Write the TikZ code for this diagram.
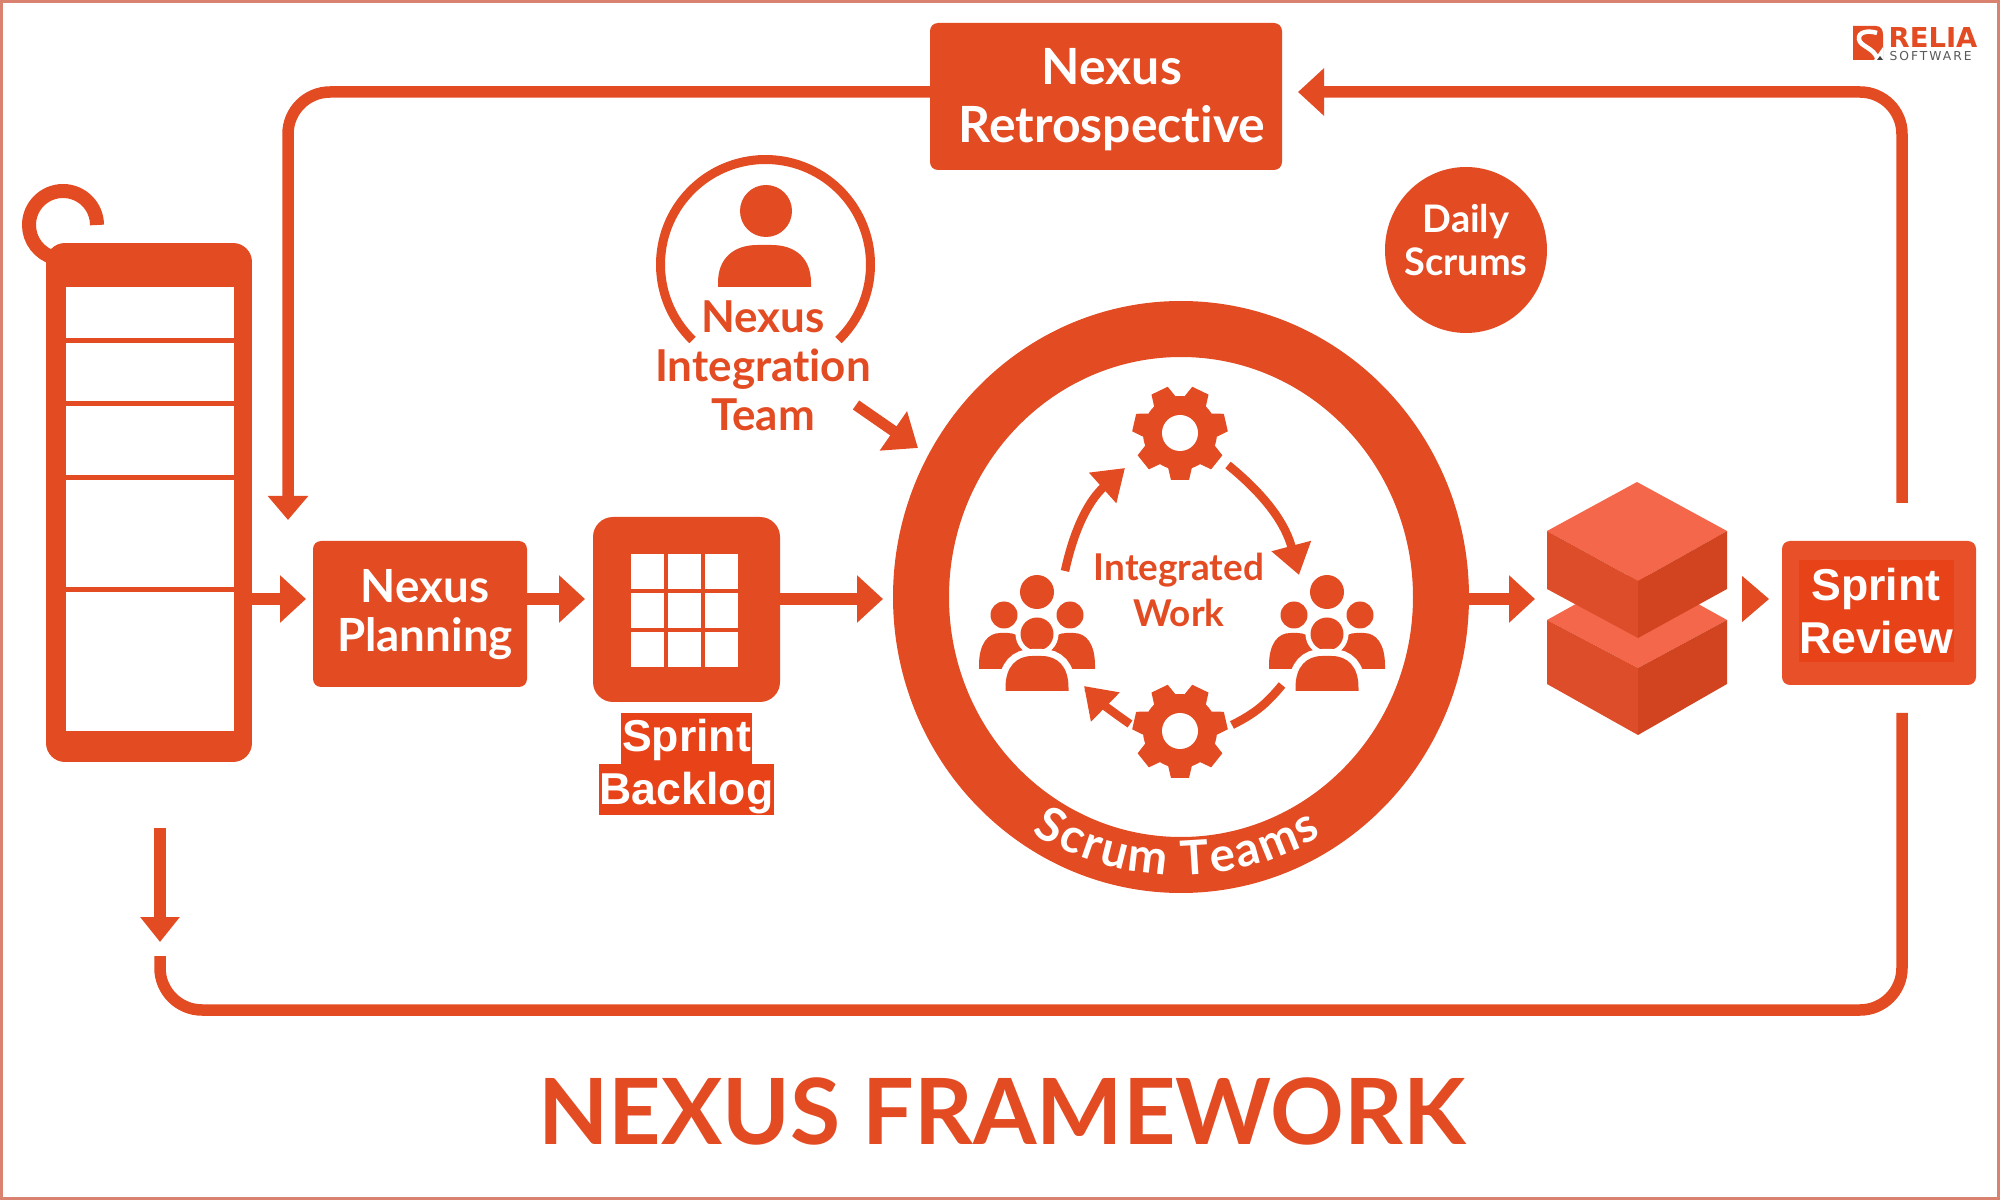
\documentclass[tikz,border=0pt]{standalone}
\usepackage{fontspec}
\setmainfont{Lato}[Ligatures=NoCommon]
\newfontfamily\arialfont{Liberation Sans}
\newfontfamily\logofont{DejaVu Sans}
\newfontfamily\logosmall[LetterSpace=16]{DejaVu Sans}
\usetikzlibrary{arrows.meta,shapes.geometric,decorations.text}
\definecolor{nxred}{HTML}{E34B22}
\definecolor{nxdark}{HTML}{E84218}
\definecolor{nxlight}{HTML}{E8502A}
\definecolor{nxframe}{HTML}{D9826F}
\definecolor{cubetop}{HTML}{F4674B}
\definecolor{cubeleft}{HTML}{DE4D29}
\definecolor{cuberight}{HTML}{D2441F}
% centre, half width, top, bottom
\newcommand{\domepath}[4]{
  ({#1-#2},#4) -- ({#1-#2},{#4-0.1*(#4-#3)})
  .. controls ({#1-#2},{#3+0.3*(#4-#3)}) and ({#1-0.65*#2},#3) .. ({#1-0.15*#2},#3)
  -- ({#1+0.15*#2},#3)
  .. controls ({#1+0.65*#2},#3) and ({#1+#2},{#3+0.3*(#4-#3)}) .. ({#1+#2},{#4-0.1*(#4-#3)})
  -- ({#1+#2},#4) -- cycle}
\tikzset{
  nxbox/.style = {fill=nxred, rounded corners=0.8mm, outer sep=0pt},
  whitetext/.style = {text=white, align=center, inner sep=0pt, font=\fontsize{13}{14}\selectfont\bfseries},
  arialtext/.style = {fill=nxdark, text=white, inner sep=0pt, font=\fontsize{12.7}{14}\arialfont\bfseries},
  redtext/.style = {text=nxred, align=center, inner sep=0pt},
  flow/.style = {draw=nxred, line width=1.2mm, -{Triangle[length=2.6mm,width=4.6mm]}},
  loopline/.style = {draw=nxred, line width=1.15mm, rounded corners=4.2mm},
  cycle line/.style = {draw=nxred, line width=0.85mm},
  cycle head/.style = {-{Triangle[length=3mm,width=3.9mm]}},
  gear/.pic = {
    \fill[nxred] (0,0) circle [radius=37];
    \foreach \a in {0,...,6}
      \fill[nxred, rotate=270+\a*360/7] (30,-13) -- (47,-9) -- (47,9) -- (30,13) -- cycle;
    \fill[white] (0,0) circle [radius=18];
  },
  crew/.pic = {
    \fill[nxred] (0,0) circle [radius=17];
    \foreach \s in {-1,1} {
      \fill[nxred] (\s*33,23) circle [radius=13.5];
      \fill[nxred] \domepath{\s*33}{25}{41}{77};
    }
    \fill[nxred, preaction={draw=white, line width=1mm}] (0,42) circle [radius=16.5];
    \fill[nxred, preaction={draw=white, line width=1.4mm}] \domepath{0}{31.5}{64}{99};
  }
}

\begin{document}
\begin{tikzpicture}[x=0.1mm,y=-0.1mm]
  \useasboundingbox (0,0) rectangle (2000,1200);
  \fill[white] (0,0) rectangle (2000,1200);
  \draw[nxframe, line width=0.3mm] (1.5,1.5) rectangle (1998.5,1198.5);

  % product backlog
  \draw[nxred, line width=1.4mm] (97,225) arc [start angle=0,end angle=-255,radius=34];
  \node [fill=nxred, outer sep=0pt, rounded corners=1.9mm, minimum width=20.6mm, minimum height=51.9mm] (backlog) at (149,502.5) {};
  \fill[white] (66,287) rectangle (234,731);
  \foreach \y in {341,404,478,590}
    \draw[nxred, line width=0.5mm] (66,\y) -- (234,\y);

  % boxes on the main row
  \node [nxbox, minimum width=21.4mm, minimum height=14.6mm] (planning) at (420,614) {};
  \node [whitetext] (planninglabel) at (425,615) {Nexus\\Planning};
  \node [fill=nxred, outer sep=0pt, rounded corners=2mm, minimum width=18.7mm, minimum height=18.5mm] (sprintbox) at (686.5,609.5) {};
  \foreach \x in {631,668,705}
    \foreach \y in {554,593,632}
      \fill[white] (\x,\y) rectangle ++(33,35);
  \node [arialtext, minimum width=13.1mm, minimum height=5.1mm, text height=3.4mm, text depth=0.7mm] (sprintlabel) at (686.5,738.5) {Sprint};
  \node [arialtext, minimum width=17.5mm, minimum height=5.1mm, text height=3.8mm, text depth=0.7mm] (backloglabel) at (686.5,789.5) {Backlog};
  \node [nxbox, minimum width=35.2mm, minimum height=14.7mm] (retro) at (1106,96.5) {};
  \node [whitetext, font=\fontsize{14.2}{16.5}\selectfont\bfseries] (retrolabel) at (1112,100) {Nexus\\Retrospective};
  \node [nxbox, fill=nxlight, minimum width=19.4mm, minimum height=14.4mm] (review) at (1879,613) {};
  \node [arialtext, minimum width=15.5mm, minimum height=10.2mm, align=center, font=\fontsize{12.7}{15}\arialfont\bfseries] (reviewlabel) at (1876,611) {Sprint\\Review};
  \node [ellipse, fill=nxred, inner sep=0pt, minimum width=16.2mm, minimum height=16.6mm] (daily) at (1466,250) {};
  \node [whitetext, font=\fontsize{10.8}{12}\selectfont\bfseries] (dailylabel) at (1466,240) {Daily\\Scrums};

  % scrum teams ring
  \node [ellipse, draw=nxred, line width=5.6mm, minimum width=52mm, minimum height=53.6mm] (ring) at (1181,597) {};
  \path[postaction={decorate, decoration={text along path, text align=fit to path, text color=white,
    text={|\fontsize{13.5}{15}\selectfont\bfseries|Scrum Teams}}}]
    (1179,597) ++(122:278) arc [start angle=122,end angle=59,radius=278];
  \node [redtext, font=\fontsize{10.5}{13.3}\selectfont\bfseries] (worklabel) at (1179,590) {Integrated\\Work};
  \pic at (1180,433) {gear};
  \pic at (1180,731) {gear};
  \pic at (1037,592) {crew};
  \pic at (1327,592) {crew};
  \coordinate (c1a) at (1065,571);
  \coordinate (c1b) at (1125,468);
  \coordinate (c2a) at (1228,465);
  \coordinate (c2b) at (1299,575);
  \coordinate (c3a) at (1282,685);
  \coordinate (c3b) at (1232,725);
  \coordinate (c4a) at (1130,724);
  \coordinate (c4b) at (1084,686);
  \draw[cycle line, cycle head] (c1a) to [bend left=18] (c1b);
  \draw[cycle line, cycle head] (c2a) to [bend left=18] (c2b);
  \draw[cycle line] (c3a) to [bend left=12] (c3b);
  \draw[cycle line, cycle head] (c4a) to [bend left=5] (c4b);

  % integration team
  \draw[nxred, line width=0.9mm] (765.5,264.5) ++(134:105) arc [start angle=134,end angle=406,radius=105];
  \fill[nxred] (766,211) circle [radius=26];
  \fill[nxred] \domepath{764.5}{46.5}{245}{287};
  \node [redtext, font=\fontsize{12.5}{13.9}\selectfont\bfseries] (team) at (763,366) {Nexus\\Integration\\Team};

  % cubes
  \coordinate (cubeout) at (1742,599);
  \fill[cubetop] (1547,620) -- (1637,570) -- (1727,620) -- (1638,668) -- cycle;
  \fill[cubeleft] (1547,620) -- (1638,668) -- (1638,735) -- (1547,684) -- cycle;
  \fill[cuberight] (1727,620) -- (1638,668) -- (1638,735) -- (1727,684) -- cycle;
  \fill[cubetop] (1547,531) -- (1637,482) -- (1727,531) -- (1638,581) -- cycle;
  \fill[cubeleft] (1547,531) -- (1638,581) -- (1638,638) -- (1547,589) -- cycle;
  \fill[cuberight] (1727,531) -- (1638,581) -- (1638,638) -- (1727,589) -- cycle;

  % connectors
  \coordinate (planin) at (306,599);
  \coordinate (sprintin) at (585,599);
  \coordinate (ringin) at (883,599);
  \coordinate (cubein) at (1535,599);
  \coordinate (reviewin) at (1769,599);
  \coordinate (teamend) at (856,405);
  \coordinate (ringtop) at (918,448);
  \coordinate (reviewup) at (1902,503);
  \coordinate (toptip) at (1298,92);
  \coordinate (leftdrop) at (288,520);
  \coordinate (reviewdown) at (1902,713);
  \coordinate (bottomend) at (160,956);
  \coordinate (dropstart) at (160,828);
  \coordinate (droptip) at (160,942);
  \draw[flow] (backlog.east |- planin) -- (planin);
  \draw[flow] (planning.east |- sprintin) -- (sprintin);
  \draw[flow] (sprintbox.east |- ringin) -- (ringin);
  \draw[flow] (ring.east |- cubein) -- (cubein);
  \draw[-{Triangle[length=2.7mm,width=4.6mm]}, nxred, line width=0.1mm] (cubeout) -- (reviewin);
  \draw[flow, line width=1.1mm, -{Triangle[length=3mm,width=4.6mm]}] (teamend) -- (ringtop);
  \draw[loopline, -{Triangle[length=2.4mm,width=3.9mm]}] (retro.west |- toptip) -- (288,92) -- (leftdrop);
  \draw[flow, line width=1.15mm, rounded corners=4.2mm] (reviewup) -- (1902,92) -- (toptip);
  \draw[loopline] (reviewdown) -- (1902,1010) -- (160,1010) -- (bottomend);
  \draw[flow, -{Triangle[length=2.5mm,width=3.8mm]}] (dropstart) -- (droptip);

  % logo
  \fill[nxred] (1853,26) -- (1876,26) .. controls (1881,26) and (1883,30) .. (1883,35) -- (1883,60) -- (1853,60) -- cycle;
  \draw[white, line width=0.45mm] (1877,33) .. controls (1868,30) and (1858,32) .. (1859,39) .. controls (1860,47) and (1874,47) .. (1878,60);
  \fill[white] (1874,60) -- (1883,47) -- (1883,60) -- cycle;
  \fill[black!75] (1877,60) -- (1880,56) -- (1883,60) -- cycle;
  \node [anchor=base west, inner sep=0pt, text=nxred, font=\fontsize{7.8}{9}\logofont\bfseries] (logotop) at (1888,48) {RELIA};
  \node [anchor=base west, inner sep=0pt, text=black!65, font=\fontsize{3.5}{4}\logosmall] (logobottom) at (1889,61) {SOFTWARE};

  % title
  \node [redtext, font=\fontsize{26}{30}\selectfont\bfseries] (title) at (1002,1111) {NEXUS FRAMEWORK};
\end{tikzpicture}
\end{document}
